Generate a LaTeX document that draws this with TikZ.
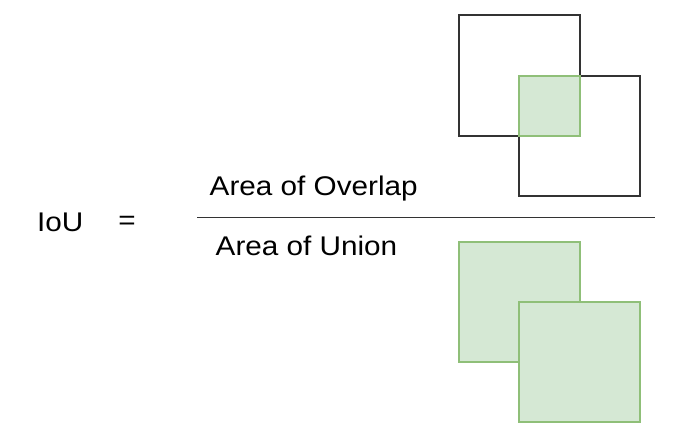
\documentclass[tikz,border=0pt]{standalone}
\usepackage{fontspec}
\setmainfont{Liberation Sans}[FakeStretch=1.1]
\definecolor{gfill}{HTML}{D5E8D4}
\definecolor{gline}{HTML}{8FBF78}
\definecolor{dline}{HTML}{333333}
\begin{document}
\begin{tikzpicture}[x=1pt,y=1pt,
  lbl/.style={inner sep=0pt,font=\fontsize{27}{31}\selectfont,text=black},
  boxb/.style={draw=dline,line width=2pt},
  boxg/.style={draw=gline,fill=gfill,line width=2pt}]
\useasboundingbox (0,0) rectangle (674,438);
% top: overlap
\draw[boxb] (459.3,422.7) rectangle (580,302);
\draw[boxb] (519.3,362) rectangle (640.3,242);
\draw[boxg] (519.3,362) rectangle (580,302);
% bottom: union
\draw[boxg] (459.3,196.3) rectangle (580,76.3);
\draw[boxg] (519.3,136.3) rectangle (640.3,16.3);
% fraction bar
\coordinate (barL) at (197,220.5);
\coordinate (barR) at (655,220.5);
\draw[dline,line width=1.5pt] (barL) -- (barR);
% texts
\node[lbl,anchor=base west] (iou) at (37,206.5) {IoU};
\node[lbl,anchor=center] (eq) at (127,215) {=};
\node[lbl,anchor=base west] (num) at (209.5,242) {Area of Overlap};
\node[lbl,anchor=base west] (den) at (215.5,182) {Area of Union};
\end{tikzpicture}
\end{document}
